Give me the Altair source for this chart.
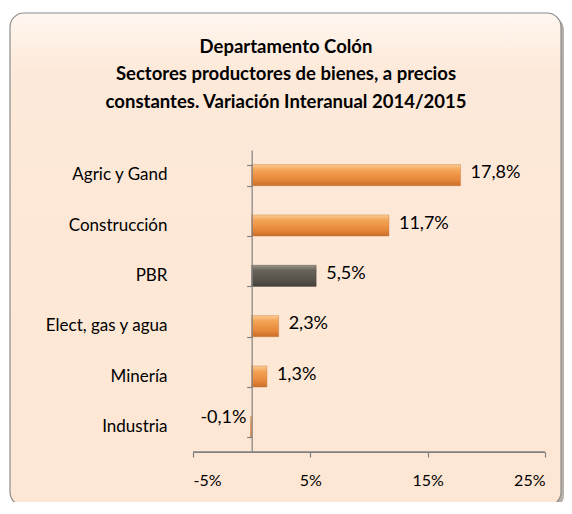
import altair as alt
import pandas as pd

categories = ["Agric y Gand", "Construcción", "PBR", "Elect, gas y agua", "Minería", "Industria"]
values = [17.8, 11.7, 5.5, 2.3, 1.3, -0.1]
groups = ["sector", "sector", "total", "sector", "sector", "sector"]
x_ticks = [-5, 5, 15, 25]
title_lines = ["Departamento Colón",
               "Sectores productores de bienes, a precios",
               "constantes. Variación Interanual 2014/2015"]

df = pd.DataFrame({"cat": categories, "val": values, "grp": groups})

FONT = "Lato"
AXIS_GRAY = "#808080"
W, H = 352, 302

y_scale = alt.Scale(domain=categories, paddingInner=0.58, paddingOuter=0.29)
x_scale = alt.Scale(domain=[x_ticks[0], x_ticks[-1]], nice=False, zero=False)

x_axis = alt.Axis(values=x_ticks, labelExpr="datum.value + '%'", grid=False,
                  domain=True, domainColor=AXIS_GRAY, domainWidth=1.2,
                  tickColor=AXIS_GRAY, tickSize=5, tickWidth=1.2,
                  labelPadding=15, title=None, labelFont=FONT, labelFontSize=16,
                  labelColor="black", zindex=2)
x_enc = alt.X("val:Q", scale=x_scale, axis=x_axis)

orange_grad = {"gradient": "linear", "x1": 0, "y1": 0, "x2": 0, "y2": 1,
               "stops": [{"offset": 0, "color": "#FCCB93"},
                         {"offset": 0.25, "color": "#F4A456"},
                         {"offset": 0.7, "color": "#E8883A"},
                         {"offset": 1, "color": "#C96F2B"}]}
gray_grad = {"gradient": "linear", "x1": 0, "y1": 0, "x2": 0, "y2": 1,
             "stops": [{"offset": 0, "color": "#9A9386"},
                       {"offset": 0.25, "color": "#67625A"},
                       {"offset": 0.7, "color": "#58534A"},
                       {"offset": 1, "color": "#45413A"}]}
frame_grad = {"gradient": "linear", "x1": 0, "y1": 0, "x2": 0, "y2": 1,
              "stops": [{"offset": 0, "color": "#FFF7F0"},
                        {"offset": 0.12, "color": "#FDE9D9"},
                        {"offset": 1, "color": "#FDE6D3"}]}

one = pd.DataFrame({"a": [0]})
ends = pd.DataFrame({"lo": [x_ticks[0]], "hi": [x_ticks[-1]]})
shadow = alt.Chart(one).mark_rect(cornerRadius=14, color="#B8B0A8").encode(
    x=alt.value(-180), x2=alt.value(371), y=alt.value(-134), y2=alt.value(359))
frame = alt.Chart(one).mark_rect(cornerRadius=14, fill=frame_grad, stroke="#8C8C8C",
                                 strokeWidth=1.2).encode(
    x=alt.value(-183), x2=alt.value(368), y=alt.value(-137), y2=alt.value(356))

# bottom axis baseline (drawn explicitly across the x domain)
baseline = alt.Chart(ends).mark_rule(color=AXIS_GRAY, strokeWidth=1.3).encode(
    x=alt.X("lo:Q", scale=x_scale, axis=x_axis), x2="hi:Q", y=alt.value(H))

base = alt.Chart(df).transform_calculate(
    lbl="replace(replace(format(datum.val, '.1f'), '.', ','), '\u2212', '-') + '%'")

bars_sector = base.transform_filter("datum.grp == 'sector'").mark_bar(
    color=orange_grad, stroke="#C06A28", strokeWidth=0.6, strokeOpacity=0.6).encode(
    x=x_enc, x2=alt.datum(0),
    y=alt.Y("cat:N", scale=y_scale, sort=categories,
            axis=alt.Axis(domain=False, ticks=False, labelPadding=26, labelFont=FONT,
                          labelFontSize=17, labelColor="black", title=None, grid=False,
                          zindex=2)))

bars_total = base.transform_filter("datum.grp == 'total'").mark_bar(
    color=gray_grad, stroke="#3E3A34", strokeWidth=0.6, strokeOpacity=0.6).encode(
    x=x_enc, x2=alt.datum(0),
    y=alt.Y("cat:N", scale=y_scale, sort=categories,
            axis=alt.Axis(orient="left", offset=-(W * 5 / 30), labels=False, ticks=True,
                          tickBand="extent", tickSize=5, domain=True, domainColor=AXIS_GRAY,
                          domainWidth=1.2, tickWidth=1.2,
                          tickColor=AXIS_GRAY, title=None, grid=False, zindex=2)))

text_pos = base.transform_filter("datum.val >= 0").mark_text(
    align="left", baseline="middle", dx=10, dy=-2, font=FONT, fontSize=18, color="black").encode(
    x=x_enc, y=alt.Y("cat:N", scale=y_scale, sort=categories, axis=None), text="lbl:N")

text_neg = base.transform_filter("datum.val < 0").mark_text(
    align="right", baseline="middle", dx=-4, dy=-9, font=FONT, fontSize=18, color="black").encode(
    x=x_enc, y=alt.Y("cat:N", scale=y_scale, sort=categories, axis=None), text="lbl:N")

chart = alt.layer(shadow, frame, bars_sector, bars_total, text_pos, text_neg, baseline).resolve_axis(
    y="independent"
).properties(
    width=W, height=H,
    autosize=alt.AutoSizeParams(type="none"),
    padding={"left": 185, "top": 142, "right": 19, "bottom": 50},
    title=alt.TitleParams(text=title_lines, font=FONT, fontSize=18.5, fontWeight="bold",
                          color="black", anchor="middle", frame="group", dx=-83,
                          offset=0, dy=99, lineHeight=27.5, zindex=2),
).configure(background="white").configure_view(stroke=None)

chart.save("out.html", embed_options={"renderer": "svg", "actions": False})
